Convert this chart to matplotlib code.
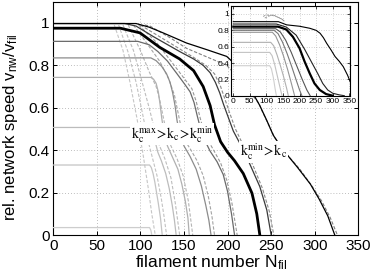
import matplotlib
matplotlib.use("Agg")
import matplotlib.pyplot as plt

plt.rcParams['font.family'] = ['Liberation Sans', 'DejaVu Sans']
plt.rcParams['mathtext.fontset'] = 'stix'

# ---------------- main panel data ----------------
# solid curves (plateau, then decline to zero)
p1_x = [0, 110.5, 112, 113]
p1_y = [0.035, 0.035, 0.022, 0]
p2_x = [0, 110.5, 112.5, 114.5, 116.5, 118.5, 120.5, 123, 125]
p2_y = [0.33, 0.33, 0.318, 0.29, 0.25, 0.20, 0.15, 0.08, 0]
p3_x = [0, 110, 112.5, 115, 117.5, 120, 124, 129, 133, 136.5, 139, 141]
p3_y = [0.507, 0.507, 0.495, 0.47, 0.43, 0.39, 0.35, 0.29, 0.22, 0.14, 0.07, 0]
p4_x = [0, 112, 115, 118, 120.5, 122.4, 124.5, 127, 131, 137, 143, 147.5, 151.5, 154.5, 156]
p4_y = [0.743, 0.743, 0.735, 0.715, 0.675, 0.62, 0.55, 0.48, 0.42, 0.365, 0.31, 0.24, 0.16, 0.08, 0]
p5_x = [0, 112, 118, 124.4, 130, 134, 137, 139.7, 142, 145, 150, 157, 164, 170, 175, 178.5, 181]
p5_y = [0.835, 0.835, 0.822, 0.795, 0.76, 0.72, 0.67, 0.61, 0.54, 0.475, 0.42, 0.37, 0.31, 0.23, 0.14, 0.07, 0]
p6_x = [0, 97, 110, 120, 131, 142, 151, 157, 161.5, 165, 169, 174, 180, 188, 195, 200, 204.5, 208]
p6_y = [0.913, 0.913, 0.897, 0.865, 0.82, 0.76, 0.71, 0.675, 0.625, 0.565, 0.50, 0.445, 0.395, 0.345, 0.285, 0.205, 0.10, 0]
thick_x = [0, 77, 99.5, 122, 145, 161, 172, 180, 185, 192, 200, 208, 218, 228, 233.5, 237]
thick_y = [0.975, 0.975, 0.953, 0.885, 0.83, 0.775, 0.70, 0.61, 0.52, 0.44, 0.39, 0.35, 0.29, 0.197, 0.10, 0]
a_x = [0, 82, 95, 115, 130, 145, 161, 172, 180, 186, 191, 195, 199, 206.6, 214, 220, 226, 237, 245, 250]
a_y = [0.997, 0.997, 0.985, 0.935, 0.90, 0.865, 0.83, 0.80, 0.765, 0.72, 0.67, 0.62, 0.575, 0.49, 0.433, 0.385, 0.33, 0.228, 0.118, 0]
b_x = [0, 95, 110, 126, 153, 176, 199, 210, 222, 237, 245, 252.5, 259, 266, 280, 295, 305, 315, 323]
b_y = [0.997, 0.997, 0.98, 0.953, 0.905, 0.874, 0.842, 0.80, 0.72, 0.61, 0.54, 0.47, 0.43, 0.39, 0.32, 0.24, 0.17, 0.09, 0]

# dashed companion curves
d1_x = [70, 80, 88, 96, 103, 109, 113, 117]
d1_y = [0.99, 0.87, 0.72, 0.55, 0.38, 0.22, 0.10, 0]
d2_x = [75, 86, 95, 103, 109, 114, 119, 124, 127, 130]
d2_y = [0.99, 0.86, 0.72, 0.56, 0.44, 0.36, 0.28, 0.17, 0.09, 0]
d3_x = [80, 92, 102, 110, 116, 121, 128, 135, 140, 145]
d3_y = [0.99, 0.87, 0.72, 0.60, 0.50, 0.43, 0.36, 0.27, 0.15, 0]
d4_x = [86, 100, 110, 118, 122, 126, 130, 135, 142, 149, 155, 160]
d4_y = [0.99, 0.87, 0.77, 0.70, 0.64, 0.56, 0.48, 0.42, 0.36, 0.28, 0.16, 0]
d5_x = [92, 108, 122, 132, 139, 143, 147, 152, 158, 165, 172, 178, 182, 185]
d5_y = [0.99, 0.90, 0.82, 0.74, 0.66, 0.58, 0.50, 0.44, 0.40, 0.35, 0.28, 0.18, 0.09, 0]
d6_x = [98, 118, 135, 148, 159, 164, 168, 172, 177, 184, 192, 199, 205, 211]
d6_y = [0.99, 0.91, 0.82, 0.75, 0.69, 0.63, 0.56, 0.50, 0.45, 0.40, 0.34, 0.26, 0.15, 0]
da_x = [100, 120, 140, 160, 175, 185, 192, 197, 202, 209, 216, 222, 229, 240, 248, 253]
da_y = [0.99, 0.94, 0.89, 0.84, 0.80, 0.76, 0.70, 0.64, 0.58, 0.50, 0.44, 0.39, 0.33, 0.22, 0.11, 0]
db_x = [105, 111, 134, 153, 176, 199, 215, 236, 239, 254, 268, 283, 297, 308, 318, 326]
db_y = [0.99, 0.985, 0.93, 0.88, 0.84, 0.80, 0.73, 0.62, 0.59, 0.46, 0.38, 0.31, 0.23, 0.16, 0.08, 0]

main_xticks = [0, 50, 100, 150, 200, 250, 300, 350]
main_yticks = [0, 0.2, 0.4, 0.6, 0.8, 1.0]
main_yticklabels = ['0', '0.2', '0.4', '0.6', '0.8', '1']

# ---------------- inset data ----------------
i1_x = [0, 110, 115, 121, 126, 130]
i1_y = [0.367, 0.367, 0.33, 0.22, 0.09, 0]
i2_x = [0, 110, 117, 125, 133, 141, 147]
i2_y = [0.53, 0.53, 0.49, 0.38, 0.24, 0.10, 0]
i3_x = [0, 113, 122, 132, 142, 152, 161, 166]
i3_y = [0.653, 0.653, 0.61, 0.50, 0.37, 0.23, 0.09, 0]
i4_x = [0, 118, 128, 140, 152, 164, 176, 185]
i4_y = [0.776, 0.776, 0.73, 0.62, 0.48, 0.32, 0.14, 0]
i5_x = [0, 123, 135, 148, 162, 176, 190, 200, 207]
i5_y = [0.80, 0.80, 0.76, 0.66, 0.52, 0.36, 0.19, 0.07, 0]
i6_x = [0, 128, 142, 158, 175, 192, 208, 222, 232]
i6_y = [0.82, 0.82, 0.78, 0.68, 0.53, 0.36, 0.20, 0.07, 0]
ithick_x = [0, 135, 160, 180, 200, 215, 231, 245, 261, 280, 300]
ithick_y = [0.845, 0.845, 0.81, 0.72, 0.58, 0.42, 0.27, 0.15, 0.07, 0.02, 0]
i7_x = [0, 130, 160, 190, 215, 235, 255, 270, 285, 300, 320, 335]
i7_y = [0.877, 0.877, 0.84, 0.74, 0.57, 0.42, 0.27, 0.15, 0.07, 0.03, 0.01, 0]
i8_x = [0, 136, 161, 200, 231, 250, 262, 272, 282, 295, 307, 320, 332, 345, 357]
i8_y = [0.906, 0.906, 0.867, 0.85, 0.825, 0.80, 0.764, 0.71, 0.64, 0.56, 0.48, 0.42, 0.355, 0.25, 0.13]
idash1_x = [90, 100, 110, 120, 130, 140, 150]
idash1_y = [0.97, 0.99, 0.98, 0.99, 0.97, 0.95, 0.93]
idash2_x = [95, 105, 115, 125, 135, 145, 155]
idash2_y = [0.95, 0.97, 0.985, 0.975, 0.96, 0.94, 0.91]

inset_xticks = [0, 50, 100, 150, 200, 250, 300, 350]
inset_yticks = [0, 0.2, 0.4, 0.6, 0.8, 1.0]
inset_yticklabels = ['0', '0.2', '0.4', '0.6', '0.8', '1']

# ---------------- figure ----------------
fig = plt.figure(figsize=(3.74, 2.77), dpi=100)
ax = fig.add_axes([0.1425, 0.1516, 0.8155, 0.8423])

dash = (0, (3, 1.6))
dashed = [(d1_x, d1_y, '#c6c6c6'), (d2_x, d2_y, '#c2c2c2'), (d3_x, d3_y, '#bdbdbd'),
          (d4_x, d4_y, '#b5b5b5'), (d5_x, d5_y, '#a4a4a4'), (d6_x, d6_y, '#999999'),
          (da_x, da_y, '#8a8a8a'), (db_x, db_y, '#808080')]
for x, y, c in dashed:
    ax.plot(x, y, color=c, lw=0.8, linestyle=dash, zorder=2)

solids = [(p1_x, p1_y, '#cdcdcd'), (p2_x, p2_y, '#c4c4c4'), (p3_x, p3_y, '#bcbcbc'),
          (p4_x, p4_y, '#b0b0b0'), (p5_x, p5_y, '#8c8c8c'), (p6_x, p6_y, '#6a6a6a'),
          (a_x, a_y, '#3a3a3a'), (b_x, b_y, '#000000')]
for x, y, c in solids:
    ax.plot(x, y, color=c, lw=0.9, zorder=3)
ax.plot(thick_x, thick_y, color='black', lw=2.0, zorder=4)

ax.set_xlim(0, 350)
ax.set_ylim(0, 1.1)
ax.set_xticks(main_xticks)
ax.set_yticks(main_yticks)
ax.set_yticklabels(main_yticklabels)
ax.tick_params(direction='in', length=3, width=0.7, labelsize=11, top=True, right=True)
ax.tick_params(axis='y', pad=2.5)
ax.tick_params(axis='x', pad=3)
ax.grid(True, linestyle=(0, (1, 2.5)), color='#a8a8a8', lw=0.6, zorder=0)
ax.set_axisbelow(True)
for s in ax.spines.values():
    s.set_linewidth(0.8)

ax.set_xlabel(r'filament number N$_\mathregular{fil}$', fontsize=12.5, va='top')
ax.xaxis.set_label_coords(0.516, -0.08)
ax.set_ylabel(r'rel. network speed v$_\mathregular{nw}$/v$_\mathregular{fil}$', fontsize=12)
ax.yaxis.set_label_coords(-0.108, 0.46)

bb = dict(facecolor='white', edgecolor='none', pad=0.5)
ax.text(89, 0.455, r'$\mathrm{k_c^{max}\!>\!k_c\!>\!k_c^{min}}$', fontsize=10.2,
        va='baseline', ha='left', bbox=bb, zorder=6)
ax.text(214, 0.372, r'$\mathrm{k_c^{min}\!>\!k_c}$', fontsize=10.2,
        va='baseline', ha='left', bbox=bb, zorder=6)

# ---------------- inset ----------------
axi = fig.add_axes([0.6176, 0.6545, 0.318, 0.3245])
axi.set_facecolor('white')
for x, y in [(idash1_x, idash1_y), (idash2_x, idash2_y)]:
    axi.plot(x, y, color='#909090', lw=0.6, linestyle=dash, zorder=2)
inset_lines = [(i1_x, i1_y, '#cfcfcf', 0.8), (i2_x, i2_y, '#c2c2c2', 0.8),
               (i3_x, i3_y, '#b0b0b0', 0.8), (i4_x, i4_y, '#959595', 0.8),
               (i5_x, i5_y, '#777777', 0.8), (i6_x, i6_y, '#555555', 0.8),
               (ithick_x, ithick_y, '#000000', 1.6), (i7_x, i7_y, '#222222', 0.8),
               (i8_x, i8_y, '#000000', 0.8)]
for x, y, c, lw in inset_lines:
    axi.plot(x, y, color=c, lw=lw, zorder=3)
axi.set_xlim(-7, 352)
axi.set_ylim(0, 1.1)
axi.set_xticks(inset_xticks)
axi.set_yticks(inset_yticks)
axi.set_yticklabels(inset_yticklabels)
axi.tick_params(direction='in', length=2, width=0.5, labelsize=6, top=True, right=True, pad=1.5)
axi.grid(True, linestyle=(0, (1, 2.5)), color='#a8a8a8', lw=0.5, zorder=0)
axi.set_axisbelow(True)
for s in axi.spines.values():
    s.set_linewidth(0.8)

fig.savefig('out.png', dpi=100)
